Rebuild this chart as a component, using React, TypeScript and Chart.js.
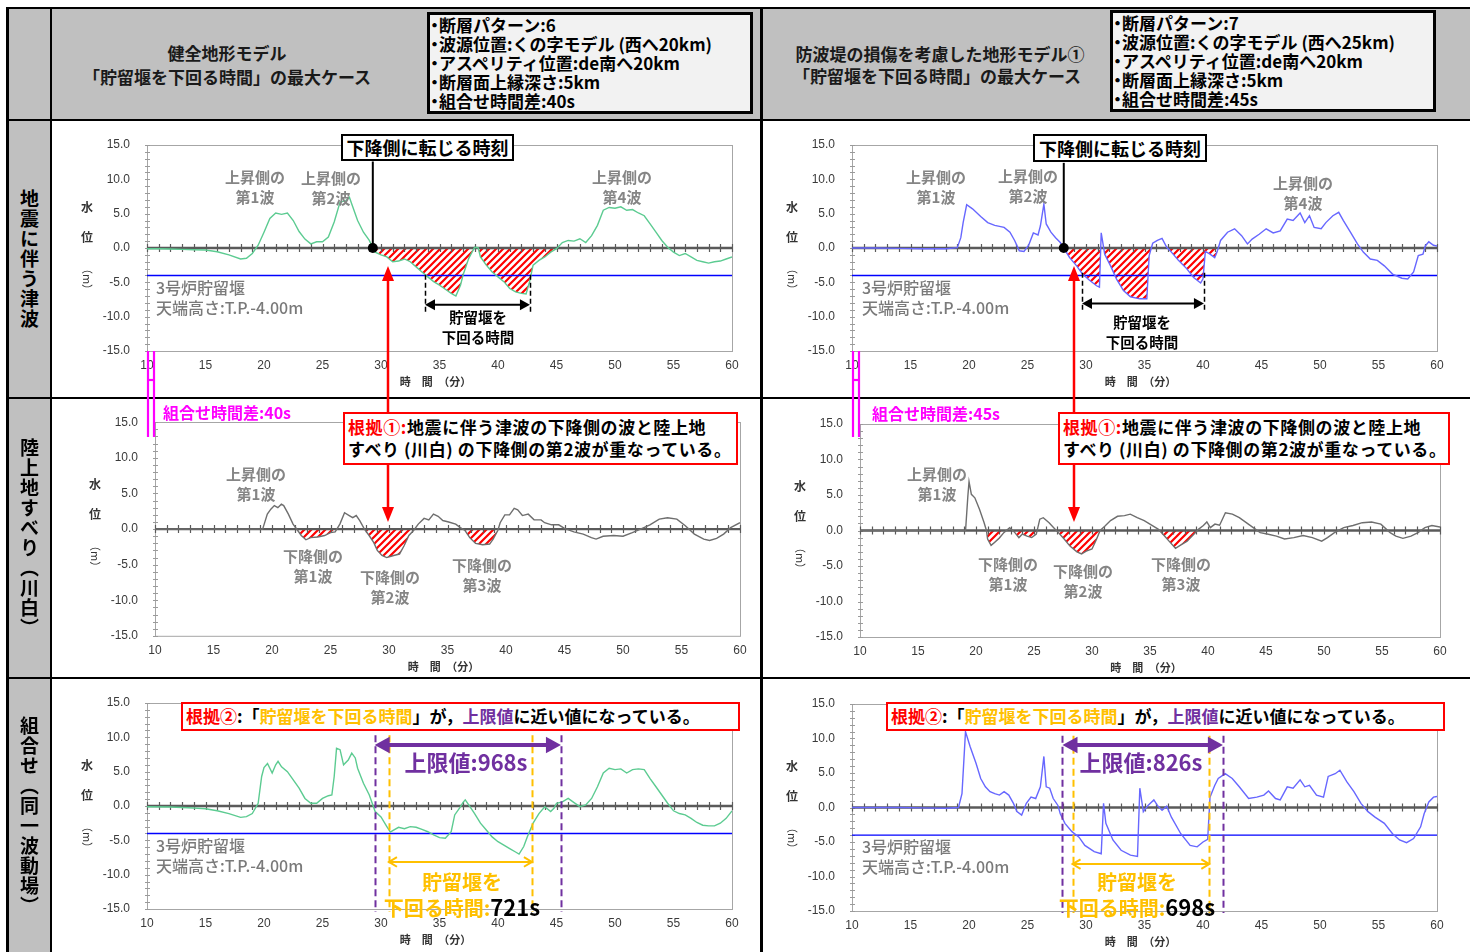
import React, { useEffect, useRef } from "react";
import { Chart, registerables } from "chart.js";

Chart.register(...registerables);

type Pt = [number, number];

// ---------------- data ----------------
const timeTicks = [10, 15, 20, 25, 30, 35, 40, 45, 50, 55, 60];
const levelTicks = [-15, -10, -5, 0, 5, 10, 15];
const weirCrest = -4.0;

// 地震に伴う津波（健全地形）
const quakeHealthy: Pt[] = [[10,-0.1],[11,-0.1],[12,-0.15],[13,-0.2],[14,-0.25],[15,-0.3],[16,-0.55],[17,-1.0],[18,-1.6],[18.5,-1.5],[19,-0.8],[19.5,0.4],[20,2.3],[20.5,4.3],[21,5.1],[21.5,4.9],[22,5.1],[22.5,4.0],[23,2.4],[23.5,1.3],[24,0.6],[24.5,0.9],[25,0.9],[25.5,1.6],[26,3.8],[26.5,6.7],[27,6.9],[27.3,7.4],[27.5,6.4],[28,4.0],[28.5,2.3],[29,1.1],[29.3,0],[29.5,-0.6],[30,-1.0],[30.5,-1.3],[31,-2.0],[31.5,-1.9],[32,-1.6],[32.5,-2.0],[33,-2.75],[33.5,-3.5],[34,-4.2],[34.5,-4.9],[35,-5.4],[35.5,-6.0],[36,-6.6],[36.4,-7.0],[36.8,-5.4],[37,-4.0],[37.5,-1.5],[38,0.1],[38.3,0.05],[38.5,-1.3],[39,-2.5],[39.5,-3.5],[40,-4.2],[40.5,-4.9],[41,-5.9],[41.5,-6.4],[42,-6.6],[42.4,-6.7],[42.7,-4.9],[43,-2.5],[43.5,-1.8],[44,-1.3],[44.5,-0.6],[45,-0.1],[45.5,0.8],[46,1.1],[46.5,1.0],[47,1.35],[47.5,0.8],[48,1.8],[48.5,3.3],[49,5.5],[49.5,5.9],[50,5.8],[50.5,6.0],[51,5.5],[51.5,5.6],[52,5.1],[52.5,4.7],[53,3.5],[53.5,2.3],[54,1.1],[54.5,0.1],[55,-0.6],[55.5,-1.1],[56,-0.8],[56.5,-1.3],[57,-1.8],[57.5,-2.0],[58,-2.2],[58.5,-2.0],[59,-1.9],[59.5,-1.6],[60,-1.3]];

// 地震に伴う津波（防波堤損傷①）
const quakeDamaged: Pt[] = [[10,0],[12,0],[14,-0.05],[16,-0.1],[18,-0.1],[19,0.05],[19.3,1.5],[19.5,3.7],[19.8,6.3],[20.3,5.7],[21,4.6],[21.6,3.7],[22.2,3.3],[23,3.0],[23.5,2.3],[23.9,1.1],[24.3,-0.4],[24.7,-0.5],[25.1,0.4],[25.5,2.2],[25.9,1.9],[26.1,3.2],[26.4,6.4],[26.6,3.5],[27,2.3],[27.4,1.5],[27.8,0.8],[28.1,0],[28.6,-1.4],[29.2,-2.6],[29.7,-3.8],[30.3,-4.7],[30.9,-5.5],[31.15,-5.7],[31.3,2.2],[31.6,-0.9],[32.1,-2.6],[32.6,-4.5],[33.2,-6.2],[33.8,-7.1],[34.6,-7.4],[35.2,-7.4],[35.4,-1.1],[35.7,0.7],[36.1,1.1],[36.5,1.4],[36.9,0.1],[37.3,-0.6],[37.9,-1.8],[38.6,-3.0],[39.2,-4.3],[39.8,-5.1],[40.0,-4.5],[40.2,-0.5],[40.6,-0.9],[41.0,-1.4],[41.2,-0.6],[41.5,1.1],[42.1,2.3],[42.7,2.8],[43.3,1.8],[43.8,0.6],[44.2,1.3],[44.8,2.0],[45.4,2.8],[46.0,2.2],[46.6,2.5],[47.2,4.2],[47.7,4.0],[48.3,5.1],[48.7,3.7],[49.1,4.7],[49.5,3.0],[50.1,2.8],[50.5,3.7],[51.1,4.7],[51.6,5.2],[52.0,4.0],[52.6,2.3],[53.2,0.6],[53.7,-0.6],[54.3,-1.6],[54.9,-1.8],[55.5,-2.6],[56.2,-3.8],[57.0,-4.4],[57.5,-4.5],[58.0,-3.5],[58.4,-1.1],[58.8,-0.9],[59.0,0.3],[59.3,0.9],[59.7,0.4],[60,0.3]];

// 陸上地すべり（川白）: 時間差40s
const slideHealthy: Pt[] = [[10,0],[15,0],[19.2,0],[19.6,2.1],[19.9,2.8],[20.2,3.3],[20.5,3.0],[20.8,3.5],[21.0,3.3],[21.4,2.1],[21.8,0.7],[22.2,-0.2],[22.5,-0.9],[22.9,-1.5],[23.3,-1.2],[23.9,-1.1],[24.5,-0.9],[25.0,-0.5],[25.4,-0.4],[25.8,0.7],[26.2,2.3],[26.6,1.9],[26.9,1.6],[27.2,1.9],[27.5,1.2],[27.9,0],[28.3,-0.9],[28.7,-1.9],[29.0,-3.0],[29.4,-3.7],[29.8,-4.0],[30.4,-3.7],[30.9,-3.5],[31.3,-2.3],[31.7,-0.9],[32.1,-0.2],[32.5,0.7],[33.0,1.5],[33.4,1.3],[33.8,2.1],[34.2,1.8],[34.6,1.2],[35.1,1.0],[35.7,0.7],[36.1,0.2],[36.5,-0.2],[36.9,-1.2],[37.4,-2.0],[38.0,-2.2],[38.6,-2.1],[38.9,-1.4],[39.3,-0.2],[39.5,0.9],[39.9,2.0],[40.3,2.0],[40.7,2.9],[41.0,2.7],[41.4,1.9],[41.9,2.1],[42.4,1.3],[43.0,1.3],[43.3,0.9],[43.9,0.6],[44.5,0.6],[45.0,0.1],[45.8,-0.4],[46.6,-0.7],[47.3,-1.2],[47.7,-1.4],[48.3,-1.0],[49.2,-0.9],[50.0,-1.0],[50.8,-0.5],[51.5,0],[52.3,0.6],[53.1,1.4],[53.8,1.6],[54.6,1.4],[55.3,0.5],[56.1,-0.7],[56.9,-1.4],[57.4,-1.6],[58.0,-1.3],[58.6,-0.7],[59.2,0.2],[60,0.9]];

// 陸上地すべり（川白）: 時間差45s
const slideDamaged: Pt[] = [[10,0],[15,0],[19.1,0],[19.3,4.9],[19.4,6.9],[19.6,5.1],[19.9,4.6],[20.3,3.0],[20.7,1.1],[20.9,0],[21.0,-1.2],[21.3,-2.1],[21.6,-1.7],[22.0,-1.1],[22.4,-0.3],[22.9,0.4],[23.3,-0.2],[23.7,-1.0],[24.0,-0.5],[24.4,-0.8],[24.8,-1.0],[25.2,-0.5],[25.5,1.6],[25.8,1.8],[26.3,1.1],[26.7,0.4],[27.1,-0.3],[27.6,-1.2],[28.1,-2.2],[28.7,-3.0],[29.1,-3.3],[29.5,-2.9],[30.0,-2.6],[30.4,-1.2],[30.7,0],[31.1,0.6],[31.6,1.4],[32.2,2.0],[32.8,2.1],[33.3,2.3],[33.9,1.8],[34.5,1.4],[35.1,0.8],[35.7,0.2],[36.1,-0.5],[36.7,-1.6],[37.2,-2.5],[37.6,-2.1],[38.2,-1.5],[38.8,-0.5],[39.2,0.2],[39.6,0.7],[39.9,1.2],[40.2,0.4],[40.6,0.9],[41.0,0.75],[41.5,2.5],[42.1,2.3],[42.7,1.8],[43.3,1.1],[43.9,0.4],[44.5,-0.3],[45.1,-0.5],[45.9,-0.8],[46.6,-1.2],[47.4,-1.0],[48.2,-0.7],[49.0,-1.0],[49.8,-1.5],[50.3,-1.0],[50.9,-0.3],[51.7,0.4],[52.5,0.7],[53.3,1.1],[54.1,1.2],[54.9,0.9],[55.7,-0.3],[56.2,-0.8],[56.8,-1.1],[57.5,-0.8],[58.1,-0.3],[58.7,0.4],[59.3,0.7],[60,0.5]];

// 組合せ（同一波動場）健全地形
const combinedHealthy: Pt[] = [[10,-0.1],[12,-0.15],[14,-0.3],[15,-0.4],[16,-0.7],[17,-1.1],[18,-1.65],[18.5,-1.55],[19,-1.1],[19.5,0.4],[19.8,4.3],[20,5.6],[20.3,6.2],[20.7,4.8],[21,6.0],[21.2,6.5],[21.5,5.7],[22,5.0],[22.5,3.8],[23,2.6],[23.5,1.1],[24,0.4],[24.5,0.4],[25,1.1],[25.5,1.5],[25.8,1.6],[26,4.3],[26.2,8.4],[26.5,8.2],[26.8,6.0],[27.2,6.7],[27.5,7.7],[27.8,7.0],[28,5.5],[28.5,3.3],[29,1.6],[29.5,-0.8],[30,-1.6],[30.5,-3.0],[30.8,-3.8],[31,-3.6],[31.5,-3.1],[32,-3.3],[32.5,-3.0],[33,-3.1],[33.5,-3.4],[34,-3.75],[34.5,-4.2],[35,-4.6],[35.5,-4.7],[36,-3.75],[36.3,-1.3],[36.8,-0.1],[37,0.5],[37.2,0.9],[37.5,0.15],[38,-1.1],[38.5,-2.5],[39,-3.5],[39.5,-4.5],[40,-5.2],[40.5,-5.7],[41,-6.2],[41.5,-6.7],[41.8,-7.0],[42.2,-5.9],[42.5,-4.5],[43,-2.5],[43.5,-1.1],[44,-0.1],[44.5,-0.8],[44.8,-0.3],[45,0.4],[45.5,0.6],[46,1.1],[46.5,0.5],[47,-0.1],[47.5,0.15],[48,1.1],[48.5,2.8],[49,4.8],[49.5,5.5],[50,5.3],[50.5,5.4],[51,4.8],[51.5,5.3],[52,5.4],[52.5,5.3],[53,4.0],[53.5,2.8],[54,1.6],[54.5,0.4],[55,-0.7],[55.5,-1.1],[56,-1.3],[56.5,-1.8],[57,-2.4],[57.5,-2.8],[58,-2.9],[58.5,-2.9],[59,-2.5],[59.5,-1.8],[60,-0.7]];

// 組合せ（同一波動場）防波堤損傷①
const combinedDamaged: Pt[] = [[10,0],[12,0],[14,0],[16,-0.05],[18,-0.1],[19.1,0],[19.4,2.0],[19.7,11.0],[20.1,8.8],[20.6,6.4],[21.0,4.2],[21.4,3.0],[21.8,2.3],[22.2,2.0],[22.6,1.8],[23.0,2.3],[23.4,1.8],[23.8,0.6],[24.1,-0.6],[24.5,-1.1],[24.9,0.6],[25.3,1.5],[25.7,1.3],[26.1,3.0],[26.4,7.4],[26.6,3.0],[26.9,2.8],[27.2,1.3],[27.6,0.3],[27.8,-0.9],[28.2,-2.3],[28.8,-3.5],[29.4,-4.3],[29.9,-5.5],[30.7,-6.4],[31.3,-6.7],[31.5,0.6],[31.7,-2.3],[32.3,-4.7],[33.0,-6.2],[33.8,-6.9],[34.4,-7.1],[34.6,2.8],[34.9,-0.6],[35.3,0.3],[35.8,1.1],[36.1,0.3],[36.5,-0.4],[36.9,0.2],[37.3,-1.4],[38.1,-3.8],[38.9,-5.5],[39.5,-5.7],[40.0,-5.0],[40.4,-4.6],[40.6,1.5],[41.0,3.2],[41.3,4.2],[41.9,4.9],[42.5,4.2],[43.1,3.0],[43.9,1.3],[44.6,1.5],[45.2,1.8],[45.6,2.4],[46.2,1.3],[46.6,1.1],[47.2,3.0],[47.7,2.8],[48.3,4.0],[48.7,3.0],[49.1,3.2],[49.7,1.8],[50.3,1.5],[50.7,4.5],[51.3,4.9],[51.7,5.4],[52.3,3.7],[52.9,2.3],[53.5,0.6],[54.1,-0.6],[54.7,-1.4],[55.5,-2.3],[56.2,-3.8],[56.8,-4.7],[57.4,-5.1],[58.0,-4.5],[58.6,-2.8],[58.9,-0.9],[59.3,0.8],[59.7,1.5],[60,1.6]];

// hatched (下降側) time ranges [start, end] (min)
const hatchQuakeHealthy: Pt[] = [[29.3, 45.5]];
const hatchQuakeDamaged: Pt[] = [[28.1, 41.5]];
const hatchSlideHealthy: Pt[] = [[21.8, 25.8], [27.9, 32.5], [36.1, 39.5]];
const hatchSlideDamaged: Pt[] = [[20.9, 25.5], [26.7, 31.1], [35.7, 39.2]];

// key times (min)
const turnTimeHealthy = 29.3;
const turnTimeDamaged = 28.1;
const belowWeirHealthy = [33.76, 42.73];
const belowWeirDamaged = [29.66, 40.08];
const upperLimitHealthy = [29.46, 45.38];
const belowCombinedHealthy = [30.68, 42.9];
const upperLimitDamaged = [27.99, 41.7];
const belowCombinedDamaged = [28.85, 40.54];

// ---------------- style ----------------
const JP = '"Noto Sans CJK JP", "Noto Sans", sans-serif';
const LAT = '"Liberation Sans", Arial, sans-serif';
const GRAY = "#c0c0c0";
const GREEN = "#5ccb91";
const BLUE = "#6767ff";
const DARK = "#6e6e6e";
const RED = "#ff0000";
const PURPLE = "#7030a0";
const ORANGE = "#ffc000";
const MAGENTA = "#ff00ff";

type Marker =
  | { kind: "turn"; x: number; top: number }
  | { kind: "vline"; x: number; y1: number; y2: number; color: string; width: number; dash: number[] }
  | { kind: "arrow"; x1: number; x2: number; y: number; color: string; width: number; head: number; open?: boolean };

function makeHatch(): CanvasPattern | string {
  const c = document.createElement("canvas");
  c.width = 7;
  c.height = 7;
  const g = c.getContext("2d");
  if (!g) return "rgba(255,0,0,0.4)";
  g.fillStyle = "#ffffff";
  g.fillRect(0, 0, 7, 7);
  g.strokeStyle = RED;
  g.lineWidth = 2.2;
  g.beginPath();
  for (const o of [-7, 0, 7]) {
    g.moveTo(o - 1, 8);
    g.lineTo(o + 8, -1);
  }
  g.stroke();
  return g.createPattern(c, "repeat") || "rgba(255,0,0,0.4)";
}

interface ChartProps {
  cell: number[];
  plot: number[];
  series: Pt[];
  color: string;
  hatch: Pt[];
  weir: boolean;
  markers: Marker[];
}

function WaveChart({ cell, plot, series, color, hatch, weir, markers }: ChartProps) {
  const ref = useRef<HTMLCanvasElement>(null);
  const [cl, ct, cr, cb] = cell;
  const [pl, pt, pr, pb] = plot;
  const W = cr - cl;
  const H = cb - ct;

  useEffect(() => {
    const canvas = ref.current;
    if (!canvas) return;

    const hatchData: { x: number; y: number | null }[] = [];
    hatch.forEach(([a, b], i) => {
      if (i > 0) hatchData.push({ x: (hatch[i - 1][1] + a) / 2, y: null });
      series.filter(([t]) => t >= a && t <= b).forEach(([x, y]) => hatchData.push({ x, y }));
    });

    const datasets: any[] = [
      {
        data: hatchData,
        borderWidth: 0,
        borderColor: "rgba(0,0,0,0)",
        pointRadius: 0,
        spanGaps: false,
        fill: { target: "origin", above: "rgba(0,0,0,0)", below: makeHatch() },
        order: 9,
      },
      {
        data: series.map(([x, y]) => ({ x, y })),
        borderColor: color,
        borderWidth: 1.4,
        pointRadius: 0,
        fill: false,
        order: 0,
      },
    ];
    if (weir) {
      datasets.push({
        data: [
          { x: timeTicks[0], y: weirCrest },
          { x: timeTicks[timeTicks.length - 1], y: weirCrest },
        ],
        borderColor: "#0000ff",
        borderWidth: 1.4,
        pointRadius: 0,
        fill: false,
        order: 1,
      });
    }

    const drawZero = (ch: any) => {
      const { ctx, chartArea: a } = ch;
      const xs = ch.scales.x;
      const y0 = ch.scales.y.getPixelForValue(0);
      ctx.save();
      ctx.strokeStyle = "#5a5a5a";
      ctx.lineWidth = 2.4;
      ctx.beginPath();
      ctx.moveTo(a.left, y0);
      ctx.lineTo(a.right, y0);
      ctx.stroke();
      ctx.lineWidth = 1.2;
      ctx.beginPath();
      for (let t = timeTicks[0]; t <= timeTicks[timeTicks.length - 1]; t++) {
        const x = Math.round(xs.getPixelForValue(t)) + 0.5;
        ctx.moveTo(x, y0 - 4);
        ctx.lineTo(x, y0 + 4);
      }
      ctx.stroke();
      ctx.restore();
    };

    const drawHead = (ctx: CanvasRenderingContext2D, x: number, y: number, dir: number, head: number, open: boolean) => {
      ctx.beginPath();
      if (open) {
        ctx.moveTo(x - dir * head, y - head * 0.6);
        ctx.lineTo(x, y);
        ctx.lineTo(x - dir * head, y + head * 0.6);
        ctx.stroke();
      } else {
        ctx.moveTo(x, y);
        ctx.lineTo(x - dir * head, y - head * 0.55);
        ctx.lineTo(x - dir * head, y + head * 0.55);
        ctx.closePath();
        ctx.fill();
      }
    };

    const decor = {
      id: "decor",
      beforeDatasetsDraw(ch: any) {
        const { ctx, chartArea: a } = ch;
        const ys = ch.scales.y;
        ctx.save();
        ctx.strokeStyle = "#a6a6a6";
        ctx.lineWidth = 1;
        ctx.strokeRect(Math.round(a.left) + 0.5, Math.round(a.top) + 0.5, a.right - a.left, a.bottom - a.top);
        ctx.strokeStyle = "#9a9a9a";
        ctx.beginPath();
        for (let v = levelTicks[0]; v <= levelTicks[levelTicks.length - 1]; v++) {
          const y = Math.round(ys.getPixelForValue(v)) + 0.5;
          ctx.moveTo(a.left - 2, y);
          ctx.lineTo(a.left + 3, y);
        }
        ctx.stroke();
        ctx.restore();
      },
      afterDatasetDraw(ch: any, args: any) {
        if (args.index === 0) drawZero(ch);
      },
      afterDatasetsDraw(ch: any) {
        const { ctx, chartArea: a } = ch;
        const xs = ch.scales.x;
        const ys = ch.scales.y;
        ctx.save();
        for (const m of markers) {
          if (m.kind === "turn") {
            const x = xs.getPixelForValue(m.x);
            const y0 = ys.getPixelForValue(0);
            ctx.strokeStyle = "#000";
            ctx.lineWidth = 2;
            ctx.beginPath();
            ctx.moveTo(x, y0);
            ctx.lineTo(x, ys.getPixelForValue(m.top));
            ctx.stroke();
            ctx.fillStyle = "#000";
            ctx.beginPath();
            ctx.arc(x, y0, 5, 0, Math.PI * 2);
            ctx.fill();
          } else if (m.kind === "vline") {
            const x = Math.round(xs.getPixelForValue(m.x)) + 0.5;
            ctx.strokeStyle = m.color;
            ctx.lineWidth = m.width;
            ctx.setLineDash(m.dash);
            ctx.beginPath();
            ctx.moveTo(x, ys.getPixelForValue(m.y1));
            ctx.lineTo(x, ys.getPixelForValue(m.y2));
            ctx.stroke();
            ctx.setLineDash([]);
          } else if (m.kind === "arrow") {
            const x1 = xs.getPixelForValue(m.x1);
            const x2 = xs.getPixelForValue(m.x2);
            const y = ys.getPixelForValue(m.y);
            const inset = m.open ? 0 : m.head * 0.8;
            ctx.strokeStyle = m.color;
            ctx.fillStyle = m.color;
            ctx.lineWidth = m.width;
            ctx.beginPath();
            ctx.moveTo(x1 + inset, y);
            ctx.lineTo(x2 - inset, y);
            ctx.stroke();
            drawHead(ctx, x1, y, -1, m.head, !!m.open);
            drawHead(ctx, x2, y, 1, m.head, !!m.open);
          }
        }
        // axis titles
        ctx.fillStyle = "#333";
        ctx.textAlign = "center";
        ctx.textBaseline = "middle";
        ctx.font = `600 12px ${JP}`;
        const tx = a.left - 60;
        ctx.fillText("水", tx, a.top + 62);
        ctx.fillText("位", tx, a.top + 92);
        ctx.save();
        ctx.translate(tx, a.top + 134);
        ctx.rotate(Math.PI / 2);
        ctx.font = `11px ${JP}`;
        ctx.fillText("（m）", 0, 0);
        ctx.restore();
        ctx.font = `600 11px ${JP}`;
        ctx.fillText("時　間　（分）", (a.left + a.right) / 2 - 4, a.bottom + 31);
        ctx.restore();
      },
    };

    const chart = new Chart(canvas, {
      type: "line",
      data: { datasets },
      options: {
        responsive: false,
        animation: false,
        devicePixelRatio: 1,
        events: [],
        layout: { padding: { left: 0, top: pt - ct, right: cr - pr, bottom: 0 } },
        plugins: {
          legend: { display: false },
          tooltip: { enabled: false },
          title: { display: false },
        },
        scales: {
          x: {
            type: "linear",
            min: timeTicks[0],
            max: timeTicks[timeTicks.length - 1],
            afterBuildTicks: (s: any) => {
              s.ticks = timeTicks.map((v) => ({ value: v }));
            },
            afterFit: (s: any) => {
              s.height = cb - pb;
            },
            ticks: {
              autoSkip: false,
              maxRotation: 0,
              padding: 7,
              color: "#3a3a3a",
              font: { family: LAT, size: 12 },
              callback: (v: any) => String(v),
            },
            grid: { display: false, drawTicks: false },
            border: { display: false },
          },
          y: {
            type: "linear",
            min: levelTicks[0],
            max: levelTicks[levelTicks.length - 1],
            afterBuildTicks: (s: any) => {
              s.ticks = levelTicks.map((v) => ({ value: v }));
            },
            afterFit: (s: any) => {
              s.width = pl - cl;
            },
            ticks: {
              padding: 17,
              color: "#3a3a3a",
              font: { family: LAT, size: 12 },
              callback: (v: any) => Number(v).toFixed(1),
            },
            grid: { display: false, drawTicks: false },
            border: { display: false },
          },
        },
      } as any,
      plugins: [decor as any],
    });
    return () => chart.destroy();
  }, []);

  return (
    <div style={{ position: "absolute", left: cl, top: ct, width: W, height: H }}>
      <canvas ref={ref} width={W} height={H} style={{ display: "block", width: W, height: H }} />
    </div>
  );
}

// ---------------- text helpers ----------------
function T({ x, y, children, style, left }: { x: number; y: number; children: any; style?: React.CSSProperties; left?: boolean }) {
  return (
    <div
      style={{
        position: "absolute",
        left: x,
        top: y,
        transform: left ? "translate(0,-50%)" : "translate(-50%,-50%)",
        whiteSpace: "nowrap",
        lineHeight: 1.15,
        fontFamily: JP,
        ...style,
      }}
    >
      {children}
    </div>
  );
}

function WaveLabel({ x, y, a, b }: { x: number; y: number; a: string; b: string }) {
  return (
    <div
      style={{
        position: "absolute",
        left: x,
        top: y - 10,
        transform: "translateX(-50%)",
        textAlign: "center",
        whiteSpace: "nowrap",
        font: `bold 15px/20px ${JP}`,
        color: "#858585",
      }}
    >
      <div>{a}</div>
      <div>{b}</div>
    </div>
  );
}

function WeirText({ x, y }: { x: number; y: number }) {
  return (
    <div style={{ position: "absolute", left: x, top: y - 10, whiteSpace: "nowrap", font: `500 16px/19.5px ${JP}`, color: "#7a7a7a" }}>
      <div>3号炉貯留堰</div>
      <div>天端高さ:T.P.-4.00m</div>
    </div>
  );
}

function InfoBox({ x, y, lines }: { x: number; y: number; lines: string[] }) {
  return (
    <div
      style={{
        position: "absolute",
        left: x,
        top: y,
        width: 326,
        height: 102,
        boxSizing: "border-box",
        border: "3px solid #000",
        background: "#f2f2f2",
        padding: "0 0 0 0",
        font: `bold 17px/19px ${JP}`,
        color: "#000",
        whiteSpace: "nowrap",
      }}
    >
      {lines.map((l, i) => (
        <div key={i}>
          <span style={{ display: "inline-block", width: 9, overflow: "visible", textIndent: -4 }}>・</span>
          {l}
        </div>
      ))}
    </div>
  );
}

function TurnBox({ x, y, w, h }: { x: number; y: number; w: number; h: number }) {
  return (
    <div
      style={{
        position: "absolute",
        left: x,
        top: y,
        width: w,
        height: h,
        boxSizing: "border-box",
        border: "2px solid #000",
        background: "#fff",
        font: `bold 18px/${h - 4}px ${JP}`,
        textAlign: "center",
        color: "#000",
        whiteSpace: "nowrap",
      }}
    >
      下降側に転じる時刻
    </div>
  );
}

function Reason1({ x, y, w }: { x: number; y: number; w: number }) {
  return (
    <div
      style={{
        position: "absolute",
        left: x,
        top: y,
        width: w,
        height: 53,
        boxSizing: "border-box",
        border: `2.5px solid ${RED}`,
        background: "#fff",
        padding: "2px 0 0 3px",
        font: `bold 17px/22px ${JP}`,
        letterSpacing: "0.6px",
        color: "#000",
        whiteSpace: "nowrap",
      }}
    >
      <div>
        <span style={{ color: RED }}>根拠①:</span>地震に伴う津波の下降側の波と陸上地
      </div>
      <div>すべり (川白) の下降側の第2波が重なっている。</div>
    </div>
  );
}

function Reason2({ x, y }: { x: number; y: number }) {
  return (
    <div
      style={{
        position: "absolute",
        left: x,
        top: y,
        width: 559,
        height: 29,
        boxSizing: "border-box",
        border: `2.5px solid ${RED}`,
        background: "#fff",
        padding: "0 0 0 3px",
        font: `bold 17px/24px ${JP}`,
        color: "#000",
        whiteSpace: "nowrap",
      }}
    >
      <span style={{ color: RED }}>根拠②</span>:「<span style={{ color: ORANGE }}>貯留堰を下回る時間</span>」が，
      <span style={{ color: PURPLE }}>上限値</span>に近い値になっている。
    </div>
  );
}

function Duration({ x, limit, below }: { x: number; limit: string; below: string }) {
  return (
    <>
      <T x={x} y={761} style={{ font: `bold 22px ${JP}`, color: PURPLE }}>
        上限値:{limit}
      </T>
      <T x={x - 4} y={881} style={{ font: `bold 20px ${JP}`, color: ORANGE }}>
        貯留堰を
      </T>
      <T x={x - 4} y={906} style={{ font: `bold 20px ${JP}`, color: ORANGE }}>
        下回る時間:<span style={{ color: "#000", fontSize: 22 }}>{below}</span>
      </T>
    </>
  );
}

function RedArrows({ x }: { x: number }) {
  return (
    <g>
      <line x1={x} y1={412} x2={x} y2={279} stroke={RED} strokeWidth={2.5} />
      <polygon points={`${x},266 ${x - 6},281 ${x + 6},281`} fill={RED} />
      <line x1={x} y1={465} x2={x} y2={509} stroke={RED} strokeWidth={2.5} />
      <polygon points={`${x},522 ${x - 6},507 ${x + 6},507`} fill={RED} />
    </g>
  );
}

function Magenta({ x }: { x: number }) {
  return (
    <g stroke={MAGENTA} strokeWidth={2.2}>
      <line x1={x} y1={351} x2={x} y2={437} />
      <line x1={x + 6} y1={351} x2={x + 6} y2={437} />
      <line x1={x} y1={380} x2={x + 6} y2={380} />
    </g>
  );
}

// ---------------- app ----------------
export default function App() {
  useEffect(() => {
    document.body.style.margin = "0";
  }, []);

  const hdr: React.CSSProperties = { font: `bold 17px ${JP}`, color: "#1a1a1a" };
  const rowLabel = (top: number, h: number, text: string) => (
    <div
      style={{
        position: "absolute",
        left: 9,
        top,
        width: 41,
        height: h,
        display: "flex",
        alignItems: "center",
        justifyContent: "center",
      }}
    >
      <div style={{ writingMode: "vertical-rl", font: `bold 19px ${JP}`, letterSpacing: "1px", color: "#000" }}>{text}</div>
    </div>
  );

  const lineBlack = (l: number, t: number, w: number, h: number) => (
    <div style={{ position: "absolute", left: l, top: t, width: w, height: h, background: "#000" }} />
  );

  const infoHealthy = ["断層パターン:6", "波源位置:くの字モデル (西へ20km)", "アスペリティ位置:de南へ20km", "断層面上縁深さ:5km", "組合せ時間差:40s"];
  const infoDamaged = ["断層パターン:7", "波源位置:くの字モデル (西へ25km)", "アスペリティ位置:de南へ20km", "断層面上縁深さ:5km", "組合せ時間差:45s"];

  return (
    <div style={{ position: "absolute", left: 0, top: 0, width: 1470, height: 952, overflow: "hidden", background: "#fff", fontFamily: JP }}>
      <div style={{ position: "absolute", left: 8, top: 8, width: 1462, height: 112, background: GRAY }} />
      <div style={{ position: "absolute", left: 8, top: 120, width: 43, height: 832, background: GRAY }} />

      <WaveChart
        cell={[51, 120, 762, 398]}
        plot={[147, 145, 732, 351]}
        series={quakeHealthy}
        color={GREEN}
        hatch={hatchQuakeHealthy}
        weir
        markers={[
          { kind: "turn", x: turnTimeHealthy, top: 12.6 },
          { kind: "vline", x: belowWeirHealthy[0], y1: -3.9, y2: -9.3, color: "#000", width: 1.5, dash: [5, 3] },
          { kind: "vline", x: belowWeirHealthy[1], y1: -3.9, y2: -9.3, color: "#000", width: 1.5, dash: [5, 3] },
          { kind: "arrow", x1: belowWeirHealthy[0], x2: belowWeirHealthy[1], y: -8.25, color: "#000", width: 2, head: 10 },
        ]}
      />
      <WaveChart
        cell={[762, 120, 1470, 398]}
        plot={[852, 145, 1437, 351]}
        series={quakeDamaged}
        color={BLUE}
        hatch={hatchQuakeDamaged}
        weir
        markers={[
          { kind: "turn", x: turnTimeDamaged, top: 12.4 },
          { kind: "vline", x: belowWeirDamaged[0], y1: -3.6, y2: -9.4, color: "#000", width: 1.5, dash: [5, 3] },
          { kind: "vline", x: belowWeirDamaged[1], y1: -3.6, y2: -9.4, color: "#000", width: 1.5, dash: [5, 3] },
          { kind: "arrow", x1: belowWeirDamaged[0], x2: belowWeirDamaged[1], y: -8.1, color: "#000", width: 2, head: 10 },
        ]}
      />
      <WaveChart cell={[51, 398, 762, 678]} plot={[155, 422, 740, 636]} series={slideHealthy} color={DARK} hatch={hatchSlideHealthy} weir={false} markers={[]} />
      <WaveChart cell={[762, 398, 1470, 678]} plot={[860, 424, 1440, 637]} series={slideDamaged} color={DARK} hatch={hatchSlideDamaged} weir={false} markers={[]} />
      <WaveChart
        cell={[51, 678, 762, 952]}
        plot={[147, 703, 732, 909]}
        series={combinedHealthy}
        color={GREEN}
        hatch={[]}
        weir
        markers={[
          { kind: "vline", x: upperLimitHealthy[0], y1: 10.3, y2: -15.4, color: PURPLE, width: 2, dash: [7, 4] },
          { kind: "vline", x: upperLimitHealthy[1], y1: 10.3, y2: -15.4, color: PURPLE, width: 2, dash: [7, 4] },
          { kind: "vline", x: belowCombinedHealthy[0], y1: 10.3, y2: -15.4, color: ORANGE, width: 2, dash: [7, 4] },
          { kind: "vline", x: belowCombinedHealthy[1], y1: 10.3, y2: -15.4, color: ORANGE, width: 2, dash: [7, 4] },
          { kind: "arrow", x1: upperLimitHealthy[0], x2: upperLimitHealthy[1], y: 8.9, color: PURPLE, width: 4, head: 15 },
          { kind: "arrow", x1: belowCombinedHealthy[0], x2: belowCombinedHealthy[1], y: -8.15, color: ORANGE, width: 2, head: 8, open: true },
        ]}
      />
      <WaveChart
        cell={[762, 678, 1470, 952]}
        plot={[852, 704, 1437, 911]}
        series={combinedDamaged}
        color={BLUE}
        hatch={[]}
        weir
        markers={[
          { kind: "vline", x: upperLimitDamaged[0], y1: 10.4, y2: -15.3, color: PURPLE, width: 2, dash: [7, 4] },
          { kind: "vline", x: upperLimitDamaged[1], y1: 10.4, y2: -15.3, color: PURPLE, width: 2, dash: [7, 4] },
          { kind: "vline", x: belowCombinedDamaged[0], y1: 10.4, y2: -15.3, color: ORANGE, width: 2, dash: [7, 4] },
          { kind: "vline", x: belowCombinedDamaged[1], y1: 10.4, y2: -15.3, color: ORANGE, width: 2, dash: [7, 4] },
          { kind: "arrow", x1: upperLimitDamaged[0], x2: upperLimitDamaged[1], y: 9.05, color: PURPLE, width: 4, head: 15 },
          { kind: "arrow", x1: belowCombinedDamaged[0], x2: belowCombinedDamaged[1], y: -8.2, color: ORANGE, width: 2, head: 8, open: true },
        ]}
      />

      {/* table lines */}
      {lineBlack(6, 7, 1464, 2)}
      {lineBlack(6, 7, 3, 945)}
      {lineBlack(50, 7, 2, 945)}
      {lineBlack(760, 7, 3, 945)}
      {lineBlack(6, 119, 1464, 2)}
      {lineBlack(6, 397, 1464, 2)}
      {lineBlack(6, 677, 1464, 2)}

      {/* header */}
      <T x={227} y={52} style={hdr}>健全地形モデル</T>
      <T x={227} y={76} style={hdr}>「貯留堰を下回る時間」の最大ケース</T>
      <T x={940} y={53} style={hdr}>防波堤の損傷を考慮した地形モデル①</T>
      <T x={937} y={75} style={hdr}>「貯留堰を下回る時間」の最大ケース</T>
      <InfoBox x={427} y={12} lines={infoHealthy} />
      <InfoBox x={1110} y={10} lines={infoDamaged} />

      {/* row labels */}
      {rowLabel(121, 276, "地震に伴う津波")}
      {rowLabel(399, 278, "陸上地すべり（川白）")}
      {rowLabel(679, 273, "組合せ（同一波動場）")}

      {/* top row annotations */}
      <TurnBox x={341} y={134} w={173} h={27} />
      <TurnBox x={1033} y={134} w={174} h={28} />
      <WaveLabel x={255} y={177} a="上昇側の" b="第1波" />
      <WaveLabel x={331} y={178} a="上昇側の" b="第2波" />
      <WaveLabel x={622} y={177} a="上昇側の" b="第4波" />
      <WaveLabel x={936} y={177} a="上昇側の" b="第1波" />
      <WaveLabel x={1028} y={176} a="上昇側の" b="第2波" />
      <WaveLabel x={1303} y={183} a="上昇側の" b="第4波" />
      <WeirText x={156} y={288} />
      <WeirText x={862} y={288} />
      <div style={{ position: "absolute", left: 478, top: 307, transform: "translateX(-50%)", textAlign: "center", font: `bold 14.5px/20px ${JP}`, color: "#000", whiteSpace: "nowrap" }}>
        <div>貯留堰を</div>
        <div>下回る時間</div>
      </div>
      <div style={{ position: "absolute", left: 1142, top: 312, transform: "translateX(-50%)", textAlign: "center", font: `bold 14.5px/20px ${JP}`, color: "#000", whiteSpace: "nowrap" }}>
        <div>貯留堰を</div>
        <div>下回る時間</div>
      </div>

      {/* middle row annotations */}
      <T x={163} y={412} left style={{ font: `bold 16px ${JP}`, color: MAGENTA }}>組合せ時間差:40s</T>
      <T x={872} y={413} left style={{ font: `bold 16px ${JP}`, color: MAGENTA }}>組合せ時間差:45s</T>
      <Reason1 x={343} y={412} w={395} />
      <Reason1 x={1058} y={412} w={392} />
      <WaveLabel x={256} y={474} a="上昇側の" b="第1波" />
      <WaveLabel x={313} y={556} a="下降側の" b="第1波" />
      <WaveLabel x={390} y={577} a="下降側の" b="第2波" />
      <WaveLabel x={482} y={565} a="下降側の" b="第3波" />
      <WaveLabel x={937} y={474} a="上昇側の" b="第1波" />
      <WaveLabel x={1008} y={564} a="下降側の" b="第1波" />
      <WaveLabel x={1083} y={571} a="下降側の" b="第2波" />
      <WaveLabel x={1181} y={564} a="下降側の" b="第3波" />

      {/* bottom row annotations */}
      <Reason2 x={181} y={702} />
      <Reason2 x={886} y={702} />
      <WeirText x={156} y={846} />
      <WeirText x={862} y={847} />
      <Duration x={466} limit="968s" below="721s" />
      <Duration x={1141} limit="826s" below="698s" />

      <svg width={1470} height={952} style={{ position: "absolute", left: 0, top: 0, pointerEvents: "none" }}>
        <RedArrows x={388} />
        <RedArrows x={1074} />
        <Magenta x={148} />
        <Magenta x={853} />
      </svg>
    </div>
  );
}
